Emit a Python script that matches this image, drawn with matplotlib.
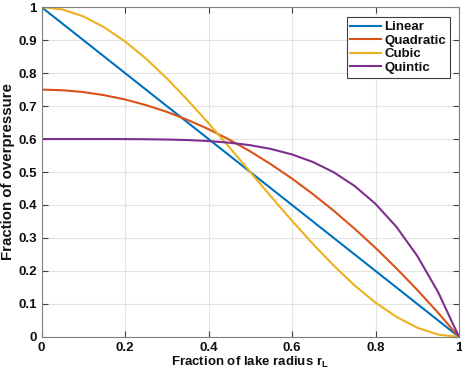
import numpy as np
import matplotlib
matplotlib.use("Agg")
import matplotlib.pyplot as plt

plt.rcParams['font.family'] = ['Liberation Sans', 'DejaVu Sans']
plt.rcParams['font.weight'] = 'bold'
plt.rcParams['mathtext.fontset'] = 'custom'
plt.rcParams['mathtext.rm'] = 'Liberation Sans:bold'
plt.rcParams['mathtext.it'] = 'Liberation Sans:bold'
plt.rcParams['mathtext.bf'] = 'Liberation Sans:bold'

# -------------------------------
# Data
# -------------------------------
r = [0, 0.05, 0.1, 0.15, 0.2, 0.25, 0.3, 0.35, 0.4, 0.45, 0.5,
     0.55, 0.6, 0.65, 0.7, 0.75, 0.8, 0.85, 0.9, 0.95, 1]
linear = [1, 0.95, 0.9, 0.85, 0.8, 0.75, 0.7, 0.65, 0.6, 0.55, 0.5,
          0.45, 0.4, 0.35, 0.3, 0.25, 0.2, 0.15, 0.1, 0.05, 0]
quadratic = [0.75, 0.748, 0.7425, 0.733, 0.72, 0.703, 0.6825, 0.658, 0.63, 0.598, 0.5625,
             0.523, 0.48, 0.433, 0.3825, 0.328, 0.27, 0.208, 0.1425, 0.073, 0]
cubic = [1, 0.993, 0.972, 0.939, 0.896, 0.844, 0.784, 0.718, 0.648, 0.575, 0.5,
         0.425, 0.352, 0.282, 0.216, 0.156, 0.104, 0.061, 0.028, 0.007, 0]
quintic = [0.6, 0.6, 0.6, 0.6, 0.5998, 0.5994, 0.5985, 0.5969, 0.5939, 0.5889, 0.5813,
           0.5698, 0.5533, 0.5304, 0.4992, 0.4576, 0.4034, 0.3338, 0.2457, 0.1357, 0]

series = [("Linear", linear, "#0072BD"),
          ("Quadratic", quadratic, "#D95319"),
          ("Cubic", cubic, "#EDB120"),
          ("Quintic", quintic, "#7E2F8E")]

xticks = [0, 0.2, 0.4, 0.6, 0.8, 1]
xticklabels = ["0", "0.2", "0.4", "0.6", "0.8", "1"]
yticks = [0, 0.1, 0.2, 0.3, 0.4, 0.5, 0.6, 0.7, 0.8, 0.9, 1]
yticklabels = ["0", "0.1", "0.2", "0.3", "0.4", "0.5", "0.6", "0.7", "0.8", "0.9", "1"]

# -------------------------------
# Plot
# -------------------------------
fs = 9.5
fig = plt.figure(figsize=(4.62, 3.76), dpi=100)
ax = fig.add_axes([0.09, 0.104, 0.9035, 0.877])

for name, vals, col in series:
    ax.plot(r, vals, color=col, linewidth=1.5, label=name)

ax.set_xlim(0, 1)
ax.set_ylim(0, 1)
ax.set_xticks(xticks)
ax.set_xticklabels(xticklabels)
ax.set_yticks(yticks)
ax.set_yticklabels(yticklabels)
ax.tick_params(direction='in', top=True, right=True, length=4, width=0.8,
               color='#404040', labelsize=fs, labelcolor='#111111')
ax.tick_params(axis='x', pad=3.5)
ax.tick_params(axis='y', pad=3.5)
for lab in ax.get_xticklabels() + ax.get_yticklabels():
    lab.set_fontweight('bold')
ax.grid(color='#e3e3e3', linewidth=0.8)
ax.set_axisbelow(True)
for sp in ax.spines.values():
    sp.set_color('#808080')
    sp.set_linewidth(0.8)

ax.set_xlabel(r'Fraction of lake radius r$_\mathbf{L}$', fontsize=fs, fontweight='bold',
              labelpad=1, color='#111111')
ax.set_ylabel('Fraction of overpressure', fontsize=10.8, fontweight='bold',
              labelpad=2, color='#111111')

leg = ax.legend(loc='upper right', bbox_to_anchor=(0.978, 0.97), fontsize=fs,
                handlelength=2.3, handletextpad=0.25, borderpad=0.3,
                labelspacing=0.1, borderaxespad=0, fancybox=False,
                framealpha=1, edgecolor='#404040')
leg.get_frame().set_linewidth(0.8)
for t in leg.get_texts():
    t.set_fontweight('bold')
    t.set_color('#111111')

fig.savefig('out.png', dpi=100)
